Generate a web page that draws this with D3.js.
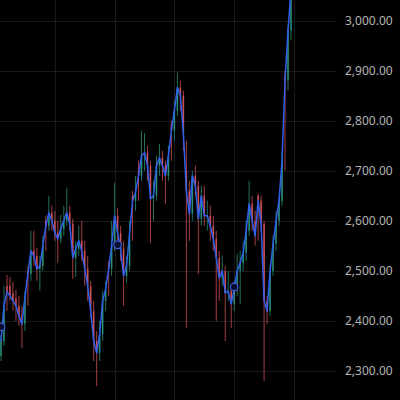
<!DOCTYPE html>
<html><head><meta charset="utf-8">
<script src="https://cdn.jsdelivr.net/npm/d3@7/dist/d3.min.js"></script>
<style>html,body{margin:0;padding:0;background:#000;}svg{display:block;}</style>
</head><body>
<script>
const opens  = [2330,2360,2470,2470,2455,2445,2430,2412,2394,2500,2494,2540,2530,2504,2510,2600,2590,2616,2600,2576,2564,2584,2600,2616,2594,2526,2544,2560,2540,2504,2470,2420,2360,2336,2374,2440,2512,2504,2550,2610,2576,2544,2490,2510,2650,2640,2700,2690,2730,2736,2710,2644,2650,2710,2726,2710,2690,2790,2780,2820,2866,2850,2700,2660,2614,2690,2670,2604,2650,2610,2610,2590,2564,2526,2486,2500,2456,2460,2434,2464,2500,2516,2536,2580,2634,2600,2650,2640,2594,2440,2420,2500,2554,2600,2640,2890,2880,2980];
const highs  = [2372,2470,2492,2488,2478,2462,2450,2430,2460,2510,2580,2580,2545,2530,2570,2610,2650,2630,2620,2600,2612,2630,2666,2630,2604,2560,2590,2600,2560,2530,2480,2440,2380,2400,2460,2480,2520,2600,2676,2625,2590,2560,2530,2600,2660,2690,2720,2780,2775,2750,2720,2680,2730,2754,2740,2720,2750,2800,2840,2896,2880,2860,2760,2680,2700,2710,2680,2670,2670,2640,2630,2610,2580,2540,2530,2510,2500,2470,2480,2534,2540,2560,2600,2680,2650,2620,2654,2650,2600,2450,2510,2570,2620,2646,2740,2900,2990,3070];
const lows   = [2320,2350,2420,2440,2420,2400,2390,2346,2380,2430,2480,2510,2480,2460,2500,2540,2580,2580,2560,2516,2555,2570,2590,2580,2484,2488,2530,2520,2470,2440,2406,2320,2270,2320,2360,2420,2450,2490,2540,2560,2520,2430,2476,2500,2560,2620,2640,2680,2700,2680,2556,2600,2640,2690,2680,2634,2680,2720,2760,2810,2820,2740,2386,2560,2600,2650,2494,2590,2590,2580,2560,2540,2400,2440,2470,2360,2440,2386,2420,2450,2434,2500,2520,2570,2580,2550,2560,2580,2280,2394,2410,2490,2540,2590,2630,2700,2860,2960];
const closes = [2360,2430,2458,2450,2440,2430,2410,2394,2446,2494,2540,2530,2504,2510,2550,2590,2616,2600,2576,2564,2584,2600,2616,2594,2526,2544,2560,2540,2504,2470,2420,2360,2336,2374,2440,2464,2504,2550,2610,2576,2544,2490,2510,2574,2640,2656,2690,2730,2736,2710,2644,2650,2710,2726,2710,2690,2730,2780,2820,2866,2850,2776,2660,2614,2690,2670,2604,2650,2610,2610,2590,2564,2526,2486,2500,2456,2460,2434,2464,2500,2516,2536,2580,2634,2600,2570,2640,2594,2440,2420,2500,2554,2600,2640,2720,2880,2980,3060];
const markerIdx   = [0, 39, 78];
const markerPrice = [2388, 2552, 2468];
const priceTicks  = [2300,2400,2500,2600,2700,2800,2900,3000];
const timeGridIdx = [18, 38, 58, 78, 98];

const W = 400, H = 400, plotRight = 337;
const svg = d3.select("body").append("svg").attr("width", W).attr("height", H)
  .style("background", "#000");

const x = d3.scaleLinear().domain([0, 97]).range([1, 291]);
const y = d3.scaleLinear().domain([2300, 3000]).range([371, 20.5]);

const data = closes.map((c, i) => ({i, o: opens[i], h: highs[i], l: lows[i], c}));

// grid
svg.append("g").selectAll("line").data(priceTicks).join("line")
  .attr("x1", 0).attr("x2", plotRight)
  .attr("y1", d => Math.round(y(d)) + 0.5).attr("y2", d => Math.round(y(d)) + 0.5)
  .attr("stroke", "#1a1a1a").attr("stroke-width", 1);
svg.append("g").selectAll("line").data(timeGridIdx).join("line")
  .attr("x1", d => Math.round(x(d)) + 0.5).attr("x2", d => Math.round(x(d)) + 0.5)
  .attr("y1", 0).attr("y2", H)
  .attr("stroke", "#1a1a1a").attr("stroke-width", 1);

const plot = svg.append("g");
plot.append("clipPath").attr("id", "clip").append("rect")
  .attr("x", 0).attr("y", 0).attr("width", plotRight).attr("height", H);
const pg = plot.append("g").attr("clip-path", "url(#clip)");

const up = "#2f9f86", dn = "#e85a62";
const col = d => d.c >= d.o ? up : dn;

pg.append("g").selectAll("line").data(data).join("line")
  .attr("x1", d => x(d.i)).attr("x2", d => x(d.i))
  .attr("y1", d => y(d.h)).attr("y2", d => y(d.l))
  .attr("stroke", col).attr("stroke-width", 1).attr("opacity", 0.7);
pg.append("g").selectAll("rect").data(data).join("rect")
  .attr("x", d => x(d.i) - 0.8).attr("width", 1.6)
  .attr("y", d => y(Math.max(d.o, d.c)))
  .attr("height", d => Math.max(1, Math.abs(y(d.o) - y(d.c))))
  .attr("fill", col).attr("opacity", 0.75);

const line = d3.line().x(d => x(d.i)).y(d => y(d.c)).curve(d3.curveLinear);
pg.append("path").datum(data).attr("d", line)
  .attr("fill", "none").attr("stroke", "#3060ec").attr("stroke-width", 1.5)
  .attr("stroke-linejoin", "round");

pg.append("g").selectAll("circle").data(markerIdx).join("circle")
  .attr("cx", (d) => x(d)).attr("cy", (d, k) => y(markerPrice[k]))
  .attr("r", 3.8).attr("fill", "#0b0f2e").attr("stroke", "#3c5fe0").attr("stroke-width", 1.2);

// axis
const axis = d3.axisRight(y).tickValues(priceTicks).tickFormat(d3.format(",.2f")).tickSize(0).tickPadding(0);
const ag = svg.append("g").attr("transform", `translate(345,0)`).call(axis);
ag.select(".domain").remove();
ag.selectAll("text").attr("fill", "#b4b4b4").style("font-family", "'Noto Sans', 'Open Sans', sans-serif")
  .style("font-size", "12px");
</script>
</body></html>
